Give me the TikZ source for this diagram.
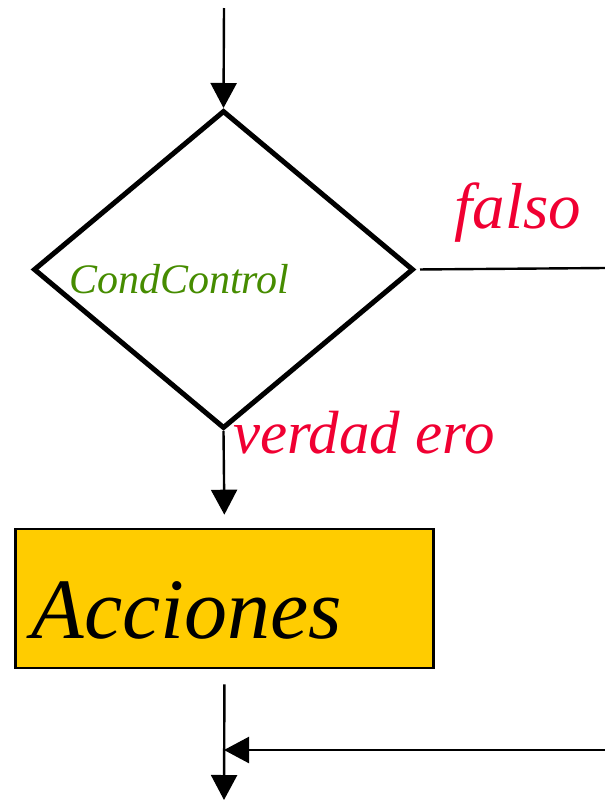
\documentclass[tikz,border=0pt]{standalone}
\usepackage{fontspec}
\setmainfont{Liberation Serif}[ItalicFont={Liberation Serif Italic}]
\usetikzlibrary{shapes.geometric,arrows.meta}
\definecolor{rojo}{RGB}{240,0,50}
\definecolor{verde}{RGB}{70,140,0}
\definecolor{oro}{RGB}{255,204,0}
\tikzset{
	linea/.style={line width=2.4pt},
	flecha/.style={line width=2.4pt,-{Triangle[length=25pt,width=26pt]}},
	decision/.style={diamond,draw,line width=5pt,minimum width=380pt,minimum height=318pt,inner sep=0pt},
	accion/.style={rectangle,draw,fill=oro,line width=2.6pt,minimum height=139pt,text width=386pt,inner xsep=16pt,align=left,text height=80pt,text depth=0pt}
}
\begin{document}
\begin{tikzpicture}[x=1pt, y=-1pt, line join=miter, line cap=butt]
	\useasboundingbox (0,0) rectangle (605,801);
	\node[decision] (cond) at (223.5,269.5) {};
	\node[accion] (acc) at (224.5,598.5) {\fontsize{86}{90}\selectfont\itshape Acciones};
	% textos
	\node[anchor=base west,inner sep=0pt,text=verde] (tcond) at (69,293) {\fontsize{42}{46}\selectfont\itshape CondControl};
	\node[anchor=base,inner sep=0pt,text=rojo] (tfalso) at (518,228) {\fontsize{65}{68}\selectfont\itshape falso};
	\node[anchor=base west,inner sep=0pt,text=rojo] (tverd) at (233,453) {\fontsize{61}{64}\selectfont\itshape verdad ero};
	% puntos libres
	\coordinate (ini) at (224,8);
	\coordinate (fder) at (605,268);
	\coordinate (rder) at (605,750);
	\coordinate (junta) at (224,750);
	\coordinate (fin) at (224,800);
	\draw[flecha] (ini)--(cond.north);
	\draw[flecha,shorten >=13pt] (cond.south)--(acc.north);
	\draw[linea,shorten <=4pt] (cond.east)--(fder);
	\draw[flecha,shorten <=15pt] (acc.south)--(fin);
	\draw[flecha] (rder)--(junta);
\end{tikzpicture}
\end{document}
